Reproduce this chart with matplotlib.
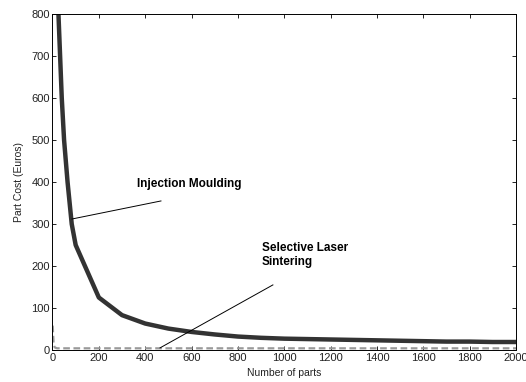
import matplotlib
matplotlib.use("Agg")
import matplotlib.pyplot as plt

plt.rcParams['font.family'] = ['Liberation Sans', 'DejaVu Sans']

# Injection moulding part cost vs number of parts
im_parts = [20, 40, 50, 65, 83, 100, 200, 300, 400, 500, 600, 700, 800, 900, 1000,
            1100, 1200, 1300, 1400, 1500, 1600, 1700, 1800, 1900, 2000]
im_cost = [880, 600, 500, 400, 300, 250, 125, 83, 63, 51, 43, 37, 32, 29, 27,
           26, 25, 24, 23, 22, 21, 20, 20, 19, 19]

# Selective laser sintering part cost
sls_parts = [1, 5, 10, 20, 500, 1000, 1500, 2000]
sls_cost = [58, 12, 6, 4, 4, 4, 4, 4]

fig = plt.figure(figsize=(5.26, 3.82), dpi=100)
ax = fig.add_axes([0.0998, 0.0838, 0.8812, 0.8792])

ax.plot(sls_parts, sls_cost, color='#999999', lw=1.6, ls=(0, (3, 1.6)))
ax.plot(im_parts, im_cost, color='#333333', lw=3.2, solid_joinstyle='round')

ax.set_xlim(0, 2000)
ax.set_ylim(0, 800)
ax.set_xticks(range(0, 2001, 200))
ax.set_yticks(range(0, 801, 100))
ax.tick_params(direction='in', top=True, right=True, labelsize=8,
               length=3, width=0.6, pad=2, labelcolor='#222222')
for s in ax.spines.values():
    s.set_linewidth(0.7)

ax.set_xlabel('Number of parts', fontsize=7.5, labelpad=4, color='#222222')
ax.set_ylabel('Part Cost (Euros)', fontsize=7.5, labelpad=5, color='#222222')

# annotations
ax.text(365, 395, 'Injection Moulding', fontsize=8.5, fontweight='bold',
        va='center', ha='left')
ax.plot([84, 468], [312, 355], color='black', lw=0.7)

ax.text(904, 257, 'Selective Laser\nSintering', fontsize=8.5,
        fontweight='bold', va='top', ha='left', linespacing=1.2)
ax.plot([464, 951], [5, 155], color='black', lw=0.7)

fig.savefig('out.png', dpi=100)
